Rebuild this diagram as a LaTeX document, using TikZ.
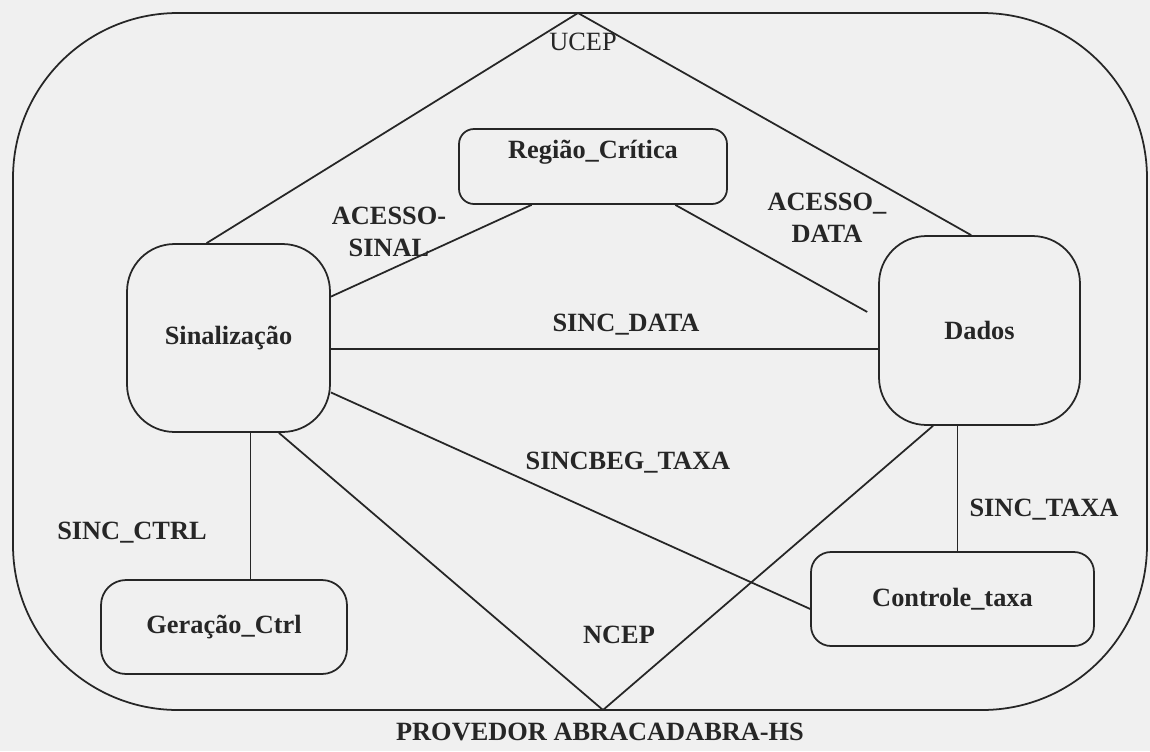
\documentclass[tikz,border=0pt]{standalone}
\usepackage{fontspec}
\setmainfont{Liberation Serif}
\usepackage{tikz}
\tikzset{
  caixa/.style={rectangle, draw=black!85, line width=1pt, text=black!85,
    font=\fontsize{15}{18}\selectfont\bfseries, align=center, inner sep=2pt},
  rotulo/.style={text=black!85, font=\fontsize{15}{18}\selectfont\bfseries,
    align=center, inner sep=0pt},
  ligacao/.style={draw=black!85, line width=1pt},
  fio/.style={draw=black!85, line width=0.7pt}
}

\begin{document}
\begin{tikzpicture}[x=0.02cm, y=-0.02cm]
\fill[black!6] (0,0) rectangle (1150,751);
\useasboundingbox (0,0) rectangle (1150,751);
\draw[ligacao, rounded corners=3.3cm] (13,13) rectangle (1147,710);
\coordinate (topo) at (578,13);
\coordinate (base) at (603,710);
\node[caixa, minimum width=5.36cm, minimum height=1.5cm, rounded corners=0.3cm, text depth=0.68cm] (reg) at (593,166.5) {Região\_Crítica};
\node[caixa, minimum width=4.06cm, minimum height=3.76cm, rounded corners=0.95cm] (sin) at (228.5,338) {Sinalização};
\node[caixa, minimum width=4.02cm, minimum height=3.78cm, rounded corners=0.95cm] (dad) at (979.5,330.5) {Dados};
\node[caixa, minimum width=4.92cm, minimum height=1.88cm, rounded corners=0.5cm] (ger) at (224,627) {Geração\_Ctrl};
\node[caixa, minimum width=5.66cm, minimum height=1.88cm, rounded corners=0.4cm] (ctl) at (952.5,599) {Controle\_taxa};
\node[rotulo, font=\fontsize{15}{18}\selectfont] (ucep) at (583,42) {UCEP};
\node[rotulo] (acs) at (389,232) {ACESSO-\\SINAL};
\node[rotulo] (acd) at (827,218) {ACESSO\_\\DATA};
\node[rotulo] (scd) at (626,325) {SINC\_DATA};
\node[rotulo] (sbt) at (628,463) {SINCBEG\_TAXA};
\node[rotulo] (ncep) at (619,635) {NCEP};
\node[rotulo] (sct) at (132,533) {SINC\_CTRL};
\node[rotulo] (stx) at (1044,510) {SINC\_TAXA};
\node[rotulo] (prov) at (600,732) {PROVEDOR ABRACADABRA-HS};
\draw[ligacao] (topo) -- (sin.103);
\draw[ligacao] (topo) -- (dad.95);
\draw[ligacao] (reg.212) -- (sin.22);
\draw[ligacao, shorten >=0.25cm] (reg.-25) -- (dad.173);
\draw[ligacao] (sin.-6) -- (sin.-6 -| dad.west);
\draw[ligacao] (sin.-28) -- (ctl.184);
\draw[ligacao] (sin.-62) -- (base);
\draw[ligacao] (dad.244) -- (base);
\draw[fio] (sin.-77) -- (sin.-77 |- ger.north);
\draw[fio] (dad.257) -- (dad.257 |- ctl.north);
\end{tikzpicture}
\end{document}
